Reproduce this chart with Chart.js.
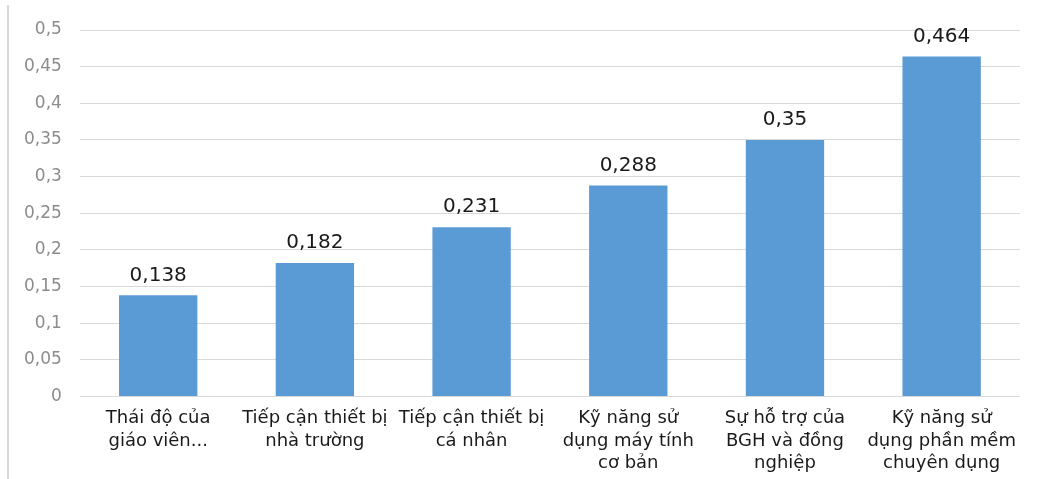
<!DOCTYPE html>
<html>
<head>
<meta charset="utf-8">
<script src="https://cdn.jsdelivr.net/npm/chart.js@4/dist/chart.umd.min.js"></script>
<style>
  html, body { margin: 0; padding: 0; background: #fff; }
  #wrap { position: relative; width: 1038px; height: 479px; }
  #edge { position: absolute; left: 7px; top: 5px; width: 2px; height: 474px; background: #d9d9d9; }
  canvas { position: absolute; left: 0; top: 0; }
</style>
</head>
<body>
<div id="wrap">
  <div id="edge"></div>
  <canvas id="c" width="1038" height="479"></canvas>
</div>
<script>
const categories = [
  ["Thái độ của", "giáo viên..."],
  ["Tiếp cận thiết bị", "nhà trường"],
  ["Tiếp cận thiết bị", "cá nhân"],
  ["Kỹ năng sử", "dụng máy tính", "cơ bản"],
  ["Sự hỗ trợ của", "BGH và đồng", "nghiệp"],
  ["Kỹ năng sử", "dụng phần mềm", "chuyên dụng"]
];
const values = [0.138, 0.182, 0.231, 0.288, 0.35, 0.464];
const yMin = 0, yMax = 0.5, yStep = 0.05;

const FONT = "'DejaVu Sans', sans-serif";
const comma = v => String(Number(v.toFixed(3))).replace('.', ',');

// Writes each bar's value just above it
const valueLabels = {
  id: 'valueLabels',
  afterDatasetsDraw(chart) {
    const ctx = chart.ctx;
    const meta = chart.getDatasetMeta(0);
    ctx.save();
    ctx.font = "20px " + FONT;
    ctx.fillStyle = '#1a1a1a';
    ctx.textAlign = 'center';
    ctx.textBaseline = 'bottom';
    meta.data.forEach((bar, i) => {
      ctx.fillText(comma(values[i]), bar.x, bar.y - 10);
    });
    ctx.restore();
  }
};

new Chart(document.getElementById('c'), {
  type: 'bar',
  data: {
    labels: categories,
    datasets: [{
      data: values,
      backgroundColor: '#5b9bd5',
      borderWidth: 0,
      barPercentage: 0.5,
      categoryPercentage: 1.0
    }]
  },
  options: {
    responsive: false,
    animation: false,
    devicePixelRatio: 1,
    layout: { padding: { top: 30, right: 18, bottom: -7, left: 6 } },
    plugins: { legend: { display: false }, tooltip: { enabled: false } },
    scales: {
      x: {
        grid: { display: false, drawTicks: false },
        border: { display: false },
        ticks: {
          color: '#1a1a1a',
          font: { family: FONT, size: 18, lineHeight: 1.25 },
          padding: 11,
          maxRotation: 0,
          autoSkip: false
        }
      },
      y: {
        min: yMin, max: yMax,
        grid: { color: '#d9d9d9', lineWidth: 1, drawTicks: false },
        border: { display: false },
        ticks: {
          stepSize: yStep,
          color: '#8c8c8c',
          font: { family: FONT, size: 17 },
          padding: 18,
          callback: v => String(Number(v.toFixed(2))).replace('.', ',')
        }
      }
    }
  },
  plugins: [valueLabels]
});
</script>
</body>
</html>
